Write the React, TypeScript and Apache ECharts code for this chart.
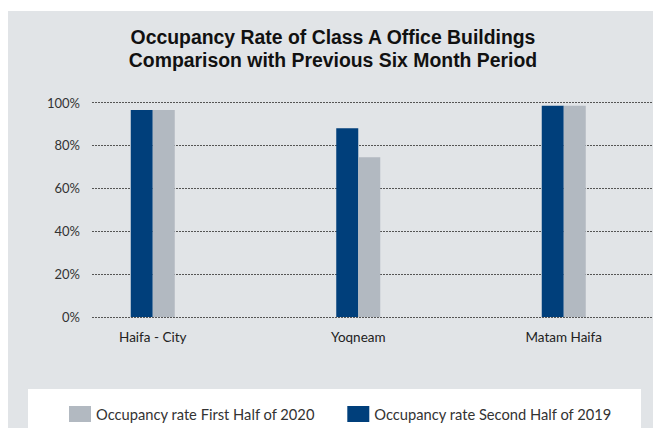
import React, { useEffect, useRef } from "react";
import * as echarts from "echarts";

const categories = ["Haifa - City", "Yoqneam", "Matam Haifa"];
const secondHalf2019 = [96.5, 88, 98.5];
const firstHalf2020 = [96.5, 74.5, 98.5];
const titleLines = ["Occupancy Rate of Class A Office Buildings", "Comparison with Previous Six Month Period"];
const seriesNames = ["Occupancy rate Second Half of 2019", "Occupancy rate First Half of 2020"];

const FONT = "Lato, 'Open Sans', sans-serif";
const TITLE_FONT = "'Liberation Sans', Arial, sans-serif";

export default function App() {
  const ref = useRef<HTMLDivElement>(null);
  useEffect(() => {
    if (!ref.current) return;
    const chart = echarts.init(ref.current, undefined, { renderer: "svg" });
    chart.setOption({
      animation: false,
      backgroundColor: "#ffffff",
      textStyle: { fontFamily: FONT },
      graphic: [
        { type: "rect", z: -10, shape: { x: 8, y: 11, width: 645, height: 417 }, style: { fill: "#e1e4e7" } },
        { type: "rect", z: -9, shape: { x: 28, y: 389, width: 613, height: 39 }, style: { fill: "#ffffff" } },
        {
          type: "text",
          x: 333,
          y: 48.5,
          style: {
            text: titleLines.join("\n"),
            textAlign: "center",
            textVerticalAlign: "middle",
            fontSize: 19.4,
            lineHeight: 23,
            fontWeight: "bold",
            fontFamily: TITLE_FONT,
            fill: "#111111",
          },
        },
      ],
      legend: {
        left: 64,
        top: 401,
        itemWidth: 22,
        itemHeight: 16,
        itemGap: 32,
        icon: "rect",
        data: [seriesNames[1], seriesNames[0]],
        textStyle: { fontSize: 14.7, color: "#333333", fontFamily: FONT },
      },
      grid: [
        { left: 92, right: 0, top: 102.5, height: 214.5, outerBoundsMode: "none", containLabel: false },
        { left: 50, width: 616.5, top: 102.5, height: 214.5, outerBoundsMode: "none", containLabel: false },
      ],
      xAxis: [
        { type: "category", gridIndex: 0, data: categories, show: false },
        {
          type: "category",
          gridIndex: 1,
          data: categories,
          axisLine: { show: false },
          axisTick: { show: false },
          axisLabel: { fontSize: 13.5, color: "#222222", margin: 13, fontFamily: FONT },
        },
      ],
      yAxis: [
        {
          type: "value",
          gridIndex: 0,
          min: 0,
          max: 100,
          interval: 20,
          axisLine: { show: false },
          axisTick: { show: false },
          axisLabel: { formatter: "{value}%", fontSize: 13, color: "#333333", margin: 12, fontFamily: FONT },
          splitLine: { show: true, lineStyle: { type: [2, 1], color: "#555555", width: 1 } },
        },
        { type: "value", gridIndex: 1, min: 0, max: 100, show: false },
      ],
      series: [
        {
          name: seriesNames[0],
          type: "bar",
          xAxisIndex: 1,
          yAxisIndex: 1,
          data: secondHalf2019,
          barWidth: 22,
          barGap: "0%",
          itemStyle: { color: "#003f7b" },
        },
        {
          name: seriesNames[1],
          type: "bar",
          xAxisIndex: 1,
          yAxisIndex: 1,
          data: firstHalf2020,
          barWidth: 22,
          barGap: "0%",
          itemStyle: { color: "#b2b9c1" },
        },
      ],
    });
    return () => chart.dispose();
  }, []);
  return <div ref={ref} style={{ position: "absolute", left: 0, top: 0, width: 653, height: 428 }} />;
}
